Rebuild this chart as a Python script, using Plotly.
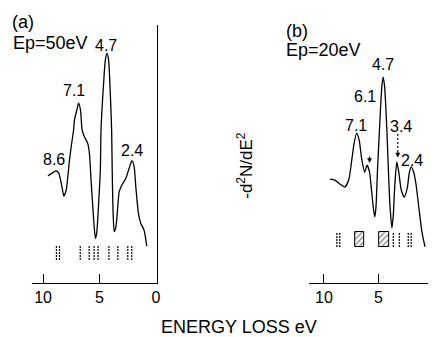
import plotly.graph_objects as go

# ---------------- data ----------------
# panel (a): Ep = 50 eV
energy_a = [9.57, 9.13, 8.83, 8.60, 8.33, 8.16, 7.95, 7.81, 7.66, 7.51, 7.30, 7.22, 7.01, 6.86,
            6.69, 6.54, 6.34, 6.05, 5.90, 5.75, 5.54, 5.37, 5.25, 5.08, 4.93, 4.87, 4.64, 4.49,
            4.34, 4.20, 4.05, 3.93, 3.88, 3.81, 3.70, 3.55, 3.41, 3.26, 3.02, 2.67, 2.38, 2.14,
            1.94, 1.79, 1.56, 1.35, 1.06, 0.82]
signal_a = [41.5, 42.8, 43.5, 42.5, 37.3, 33.7, 36.0, 41.2, 47.7, 52.8, 59.3, 63.2, 67.1, 69.7,
            67.1, 59.3, 56.7, 54.1, 50.4, 39.9, 25.7, 17.3, 19.4, 31.0, 43.8, 59.3, 77.5, 86.4,
            89.0, 86.4, 73.6, 59.3, 43.8, 28.3, 19.9, 21.8, 28.3, 35.4, 38.0, 40.6, 44.5, 47.4,
            45.1, 37.3, 27.0, 23.1, 20.5, 14.3]
peak_labels_a = ["8.6", "7.1", "4.7", "2.4"]
marks_a = [8.82, 8.55, 6.71, 5.92, 5.48, 5.13, 4.17, 3.38, 2.50, 2.15]

# panel (b): Ep = 20 eV
energy_b = [9.45, 9.00, 8.55, 8.09, 7.73, 7.45, 7.23, 7.00, 6.77, 6.55, 6.27, 6.05, 5.82, 5.64,
            5.45, 5.34, 5.23, 5.09, 4.91, 4.77, 4.68, 4.57, 4.45, 4.36, 4.23, 4.09, 3.95, 3.77,
            3.64, 3.50, 3.32, 3.14, 2.91, 2.64, 2.36, 2.18, 2.00, 1.77, 1.55, 1.27, 1.00, 0.73]
signal_b = [40.3, 39.9, 38.4, 37.2, 39.9, 47.7, 54.3, 58.1, 55.4, 48.4, 43.0, 45.7, 43.0, 36.0,
            28.3, 25.6, 29.5, 43.8, 59.3, 70.9, 76.7, 79.8, 76.7, 70.9, 59.3, 43.8, 30.2, 21.3,
            26.4, 38.0, 46.9, 43.0, 36.0, 33.3, 36.8, 42.6, 45.0, 43.0, 38.0, 28.3, 19.4, 14.0]
peak_labels_b = ["7.1", "6.1", "4.7", "3.4", "2.4"]
marks_b = [8.82, 8.55, 3.64, 3.09, 2.27, 2.00]
band_centers_b = [6.73, 4.45]
band_widths_b = [0.91, 0.91]

tick_vals = [10, 5, 0]
tick_text = ["10", "5", "0"]

# ---------------- layout helpers ----------------
# the page body has an 8px margin, so the figure is drawn 8px smaller and offset
OFF = 8
W, H = 436 - OFF, 337 - OFF
FONT = "Liberation Sans, Arial, sans-serif"
def fx(p):
    return (p - OFF) / W
def fy(p):
    return 1 - (p - OFF) / H

fig = go.Figure()

line_style = dict(color="black", width=1.3)
fig.add_trace(go.Scatter(x=energy_a, y=signal_a, mode="lines", line=dict(shape="spline", smoothing=0.6, **line_style),
                         xaxis="x", yaxis="y", showlegend=False, hoverinfo="skip"))
fig.add_trace(go.Scatter(x=energy_b, y=signal_b, mode="lines", line=dict(shape="spline", smoothing=0.6, **line_style),
                         xaxis="x2", yaxis="y", showlegend=False, hoverinfo="skip"))

def seg(vals, lo, hi):
    xs, ys = [], []
    for v in vals:
        xs += [v, v, None]
        ys += [lo, hi, None]
    return xs, ys

xs, ys = seg(marks_a, 8.9, 14.7)
fig.add_trace(go.Scatter(x=xs, y=ys, mode="lines", line=dict(color="black", width=1.2, dash="2px,1px"),
                         xaxis="x", yaxis="y", showlegend=False, hoverinfo="skip"))
xs, ys = seg(marks_b, 14.0, 19.8)
fig.add_trace(go.Scatter(x=xs, y=ys, mode="lines", line=dict(color="black", width=1.2, dash="2px,1px"),
                         xaxis="x2", yaxis="y", showlegend=False, hoverinfo="skip"))
fig.add_trace(go.Bar(x=band_centers_b, y=[5.8] * len(band_centers_b), base=14.0, width=band_widths_b,
                     marker=dict(color="white", line=dict(color="black", width=1),
                                 pattern=dict(shape="/", fgcolor="black", bgcolor="white", size=4, solidity=0.3)),
                     xaxis="x2", yaxis="y", showlegend=False, hoverinfo="skip"))

axis_common = dict(showline=True, linecolor="black", linewidth=1.2, ticks="inside", ticklen=9, tickwidth=1.2,
                   tickcolor="black", tickvals=tick_vals, ticktext=tick_text, showgrid=False, zeroline=False,
                   tickfont=dict(family=FONT, size=16, color="black"))

fig.update_layout(
    width=W, height=H, margin=dict(l=0, r=0, t=0, b=0),
    paper_bgcolor="white", plot_bgcolor="white",
    xaxis=dict(domain=[fx(32), fx(158)], range=[11.0, -0.05], anchor="y", **axis_common),
    xaxis2=dict(domain=[fx(312), 1.0], range=[11.36, 0.09], anchor="y", **axis_common),
    yaxis=dict(domain=[fy(283), fy(25)], range=[0, 100], anchor="x", side="right", showline=True,
               linecolor="black", linewidth=1.2, showticklabels=False, ticks="", showgrid=False, zeroline=False),
    bargap=0,
)

ann = []
lab_font = dict(family=FONT, size=16, color="black")
# peak labels panel a
for t, x, y in zip(peak_labels_a, [9.06, 7.3, 4.4, 2.11], [47.7, 74.8, 92.2, 51.2]):
    ann.append(dict(text=t, x=x, y=y, xref="x", yref="y", showarrow=False, font=lab_font,
                    xanchor="center", yanchor="middle"))
# peak labels panel b
for t, x, y in zip(peak_labels_b, [7.09, 6.27, 4.59, 2.91, 1.91], [60.9, 72.1, 84.5, 60.5, 47.3]):
    ann.append(dict(text=t, x=x, y=y, xref="x2", yref="y", showarrow=False, font=lab_font,
                    xanchor="center", yanchor="middle"))
# arrows panel b
ann.append(dict(text="", x=5.82, y=46.5, xref="x2", yref="y", showarrow=True, ax=0, ay=-8,
                arrowhead=2, arrowsize=0.8, arrowwidth=1.2, arrowcolor="black"))
ann.append(dict(text="", x=3.23, y=48.6, xref="x2", yref="y", showarrow=True, ax=0, ay=-7,
                arrowhead=2, arrowsize=0.8, arrowwidth=1.2, arrowcolor="black"))
# panel titles
big = dict(family=FONT, size=18, color="black")
def pa(text, x, y, xanchor="left", font=big, **kw):
    return dict(text=text, x=fx(x), y=fy(y), xref="paper", yref="paper", xanchor=xanchor, yanchor="middle",
                showarrow=False, font=font, **kw)
ann += [
    pa("(a)", 10, 21.5),
    pa("Ep=50eV", 11, 43.5),
    pa("(b)", 287, 31),
    pa("Ep=20eV", 287, 50),
    pa("ENERGY LOSS eV", 241.5, 327, xanchor="center"),
    pa("-d<sup>2</sup>N/dE<sup>2</sup>", 247, 165, xanchor="center", textangle=-90,
       font=dict(family=FONT, size=17, color="black")),
    pa("0", 432, 295, xanchor="left", font=lab_font),
]
fig.update_layout(annotations=ann)
fig.add_shape(type="line", xref="x2", yref="y", x0=3.23, x1=3.23, y0=57.8, y1=50.5,
              line=dict(color="black", width=1.2, dash="2px,2px"))

fig.write_html("out.html")
